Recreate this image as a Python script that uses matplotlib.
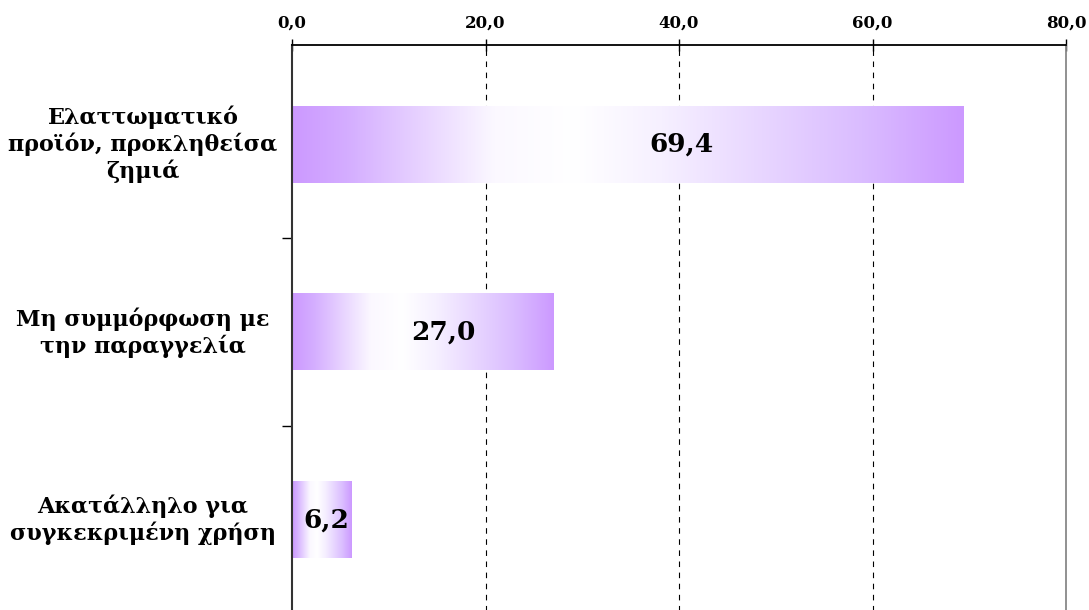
# Reasons for complaints - horizontal bars with purple gradient

import matplotlib.pyplot as plt
import numpy as np
from matplotlib.colors import LinearSegmentedColormap
from matplotlib.transforms import blended_transform_factory

categories = ["Ελαττωματικό\nπροϊόν, προκληθείσα\nζημιά",
              "Μη συμμόρφωση με\nτην παραγγελία",
              "Ακατάλληλο για\nσυγκεκριμένη χρήση"]
values = [69.4, 27.0, 6.2]
value_labels = ["69,4", "27,0", "6,2"]
xticks = [0, 20, 40, 60, 80]
xtick_labels = ["0,0", "20,0", "40,0", "60,0", "80,0"]

purple = "#CC99FF"
cmap = LinearSegmentedColormap.from_list(
    "grad", [(0.0, purple), (0.08, "#D4ADFF"), (0.3, "#FBF8FF"),
             (0.42, "#FFFFFF"), (0.55, "#F6F0FF"), (0.85, "#DABCFF"),
             (1.0, purple)])

plt.rcParams["font.family"] = ["DejaVu Serif"]

fig = plt.figure(figsize=(10.89, 6.10), dpi=100)
ax = fig.add_axes([292 / 1089, -4 / 610, 774 / 1089, 569 / 610])

grad = np.linspace(0, 1, 256).reshape(1, -1)
bar_h = 0.405
for i, v in enumerate(values):
    ax.imshow(grad, cmap=cmap, aspect="auto", zorder=2,
              extent=[0, v, i + bar_h / 2, i - bar_h / 2])
    ax.text(v * 0.58, i, value_labels[i], ha="center", va="center",
            fontsize=19, fontweight="bold", zorder=3)

ax.set_xlim(0, 80)
ax.set_ylim(2.5, -0.53)

# top axis
ax.xaxis.tick_top()
ax.set_xticks(xticks)
ax.set_xticklabels(xtick_labels, fontsize=12, fontweight="bold")
ax.tick_params(axis="x", direction="inout", length=8, width=1, pad=6)
for x in xticks[1:-1]:
    ax.axvline(x, color="black", linestyle=(0, (5, 5)), linewidth=0.8, zorder=0)

# left axis: ticks only between categories
ax.set_yticks([])
ax.set_yticks([0.5, 1.5], minor=True)
ax.tick_params(axis="y", which="minor", direction="out", length=7, width=1)
ax.set_yticklabels([], minor=True)

trans = blended_transform_factory(ax.transAxes, ax.transData)
for i, c in enumerate(categories):
    ax.text(-0.1925, i, c, transform=trans, ha="center", va="center",
            fontsize=16, fontweight="bold", linespacing=1.2)

ax.spines["top"].set_linewidth(1.3)
ax.spines["left"].set_linewidth(1.5)
ax.spines["left"].set_color("#333333")
ax.spines["right"].set_color("#888888")
ax.spines["right"].set_linewidth(1.3)
ax.spines["bottom"].set_visible(False)

plt.savefig("out.png", dpi=100)
plt.close()
